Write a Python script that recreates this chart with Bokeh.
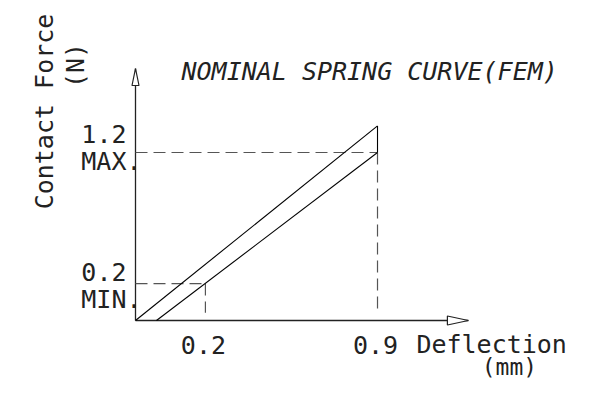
import math
from bokeh.plotting import figure
from bokeh.models import Range1d
from bokeh.core.properties import value
from bokeh.embed import file_html
from bokeh.resources import INLINE

# ---- schematic data (drawing units: x = deflection, y = force) ----
upper_x = [0.0, 0.9]
upper_y = [0.0, 1.39]
lower_x = [0.078, 0.9]
lower_y = [0.0, 1.2]
max_point = [0.9, 1.2]
min_point = [0.26, 0.264]
dash_floor = 0.055
x_axis_end = 1.238
y_axis_end = 1.8

x_tick_pos = [0.26, 0.9]
x_tick_labels = ["0.2", "0.9"]
y_tick_pos = [0.264, 1.2]
y_tick_values = ["0.2", "1.2"]
y_tick_tags = ["MIN.", "MAX."]

title_text = "NOMINAL SPRING CURVE(FEM)"
x_label = ["Deflection", "(mm)"]
y_label = ["Contact Force", "(N)"]

# ---- layout / scale (pixels) ----
W, H = 573, 379
KX, KY = 268.9, 140.0
OX, OY = 135.0, 320.0      # origin in canvas pixels
SH = 9                     # baseline correction of the svg text renderer
x_range = Range1d(-OX / KX, (W - OX) / KX)
y_range = Range1d(-(H - OY) / KY, OY / KY)

p = figure(width=W, height=H, x_range=x_range, y_range=y_range,
           output_backend="svg", toolbar_location=None, min_border=0)
p.axis.visible = False
p.grid.visible = False
p.outline_line_color = None
p.background_fill_color = "white"

FONT = value("DejaVu Sans Mono")
FS = value("25px")
TC = "#222222"
DASH = "12 6"
DC = "#555555"

# axes
p.line([0, 0], [0, y_axis_end], line_color="#222222", line_width=1.3)
p.line([0, x_axis_end], [0, 0], line_color="#222222", line_width=1.3)
# arrow heads (open triangles)
ah_len, ah_half = 17.0, 3.5
p.patch([0, -ah_half / KX, ah_half / KX],
        [y_axis_end, y_axis_end - ah_len / KY, y_axis_end - ah_len / KY],
        fill_color="white", line_color="#222222", line_width=1.2)
ah_len2, ah_half2 = 21.0, 4.5
p.patch([x_axis_end, x_axis_end - ah_len2 / KX, x_axis_end - ah_len2 / KX],
        [0, ah_half2 / KY, -ah_half2 / KY],
        fill_color="white", line_color="#222222", line_width=1.2)

# dashed guides
p.line([0, max_point[0]], [max_point[1], max_point[1]], line_dash=DASH, line_color=DC, line_width=1.2)
p.line([max_point[0], max_point[0]], [max_point[1], dash_floor], line_dash=DASH, line_color=DC, line_width=1.2)
p.line([0, min_point[0]], [min_point[1], min_point[1]], line_dash=DASH, line_color=DC, line_width=1.2)
p.line([min_point[0], min_point[0]], [min_point[1], dash_floor], line_dash=DASH, line_color=DC, line_width=1.2)

# spring curves
p.line(upper_x, upper_y, line_color="black", line_width=1.1)
p.line(lower_x, lower_y, line_color="black", line_width=1.1)
p.line([upper_x[1], lower_x[1]], [upper_y[1], lower_y[1]], line_color="black", line_width=1.1)

def txt(x, y, s, align="left", xo=0, yo=0, angle=0.0, style="normal", fs=FS):
    p.text(x=[x], y=[y], text=[s], text_font=FONT, text_font_size=fs,
           text_color=TC, text_align=align, text_baseline="alphabetic",
           x_offset=xo, y_offset=yo, angle=angle, text_font_style=style)

# x tick labels
for xp, lab in zip(x_tick_pos, x_tick_labels):
    txt(xp, 0, lab, align="center", xo=-2, yo=33 - SH)
# y tick labels
for yp, v, tag in zip(y_tick_pos, y_tick_values, y_tick_tags):
    txt(0, yp, v, align="right", xo=-9, yo=(-10 if yp > 1 else -3) - SH)
    txt(0, yp, tag, align="right", xo=6, yo=(18 if yp > 1 else 25) - SH)

# axis titles
txt(x_axis_end, 0, x_label[0], align="left", xo=-52, yo=33 - SH)
txt(x_axis_end, 0, x_label[1], align="center", xo=41, yo=55 - SH, fs=value("23px"))
txt(-(82 + SH) / KX, (320 - 111) / KY, y_label[0], align="center", angle=math.pi / 2)
txt(-(53 + SH - 2) / KX, (320 - 65) / KY, y_label[1], align="center", angle=math.pi / 2)

# chart title
txt(46 / KX, (320 - 80) / KY, title_text, align="left", yo=-SH, style="italic")

open("out.html", "w").write(file_html(p, INLINE))
